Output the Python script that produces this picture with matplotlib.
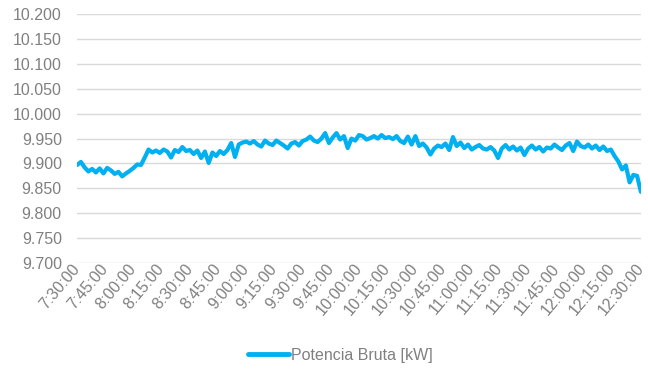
import matplotlib
matplotlib.use("Agg")
import matplotlib.pyplot as plt
import matplotlib.transforms as mtransforms
from matplotlib.ticker import FuncFormatter

plt.rcParams['font.family'] = ['Liberation Sans', 'DejaVu Sans']

# gross power, one reading every 2 minutes from 7:30 to 12:30 [kW]
potencia_bruta = [
    9897, 9903, 9892, 9884, 9889, 9882, 9890, 9880, 9891, 9886, 9879, 9883, 9874, 9880, 9885,
    9891, 9898, 9897, 9912, 9928, 9922, 9926, 9921, 9928, 9924, 9912, 9927, 9923, 9933, 9925,
    9927, 9919, 9926, 9911, 9924, 9901, 9922, 9915, 9925, 9919, 9927, 9941, 9913, 9938, 9942,
    9944, 9940, 9945, 9938, 9934, 9946, 9940, 9937, 9946, 9941, 9936, 9930, 9940, 9943, 9936,
    9945, 9948, 9954, 9946, 9943, 9950, 9961, 9941, 9952, 9961, 9948, 9955, 9931, 9950, 9946,
    9957, 9955, 9948, 9951, 9955, 9950, 9957, 9951, 9953, 9949, 9955, 9945, 9941, 9954, 9938,
    9955, 9935, 9940, 9932, 9918, 9930, 9936, 9933, 9940, 9927, 9953, 9935, 9942, 9931, 9938,
    9928, 9933, 9937, 9930, 9928, 9933, 9926, 9911, 9930, 9937, 9928, 9934, 9926, 9932, 9917,
    9930, 9936, 9928, 9933, 9924, 9932, 9930, 9938, 9932, 9927, 9936, 9941, 9925, 9944, 9935,
    9932, 9938, 9930, 9936, 9927, 9934, 9925, 9928, 9915, 9904, 9888, 9896, 9862, 9877, 9875,
    9843,
]
minutos = [2 * i for i in range(len(potencia_bruta))]  # minutes since 7:30

tick_minutos = list(range(0, 301, 15))
tick_labels = ['7:30:00', '7:45:00', '8:00:00', '8:15:00', '8:30:00', '8:45:00',
               '9:00:00', '9:15:00', '9:30:00', '9:45:00', '10:00:00', '10:15:00',
               '10:30:00', '10:45:00', '11:00:00', '11:15:00', '11:30:00', '11:45:00',
               '12:00:00', '12:15:00', '12:30:00']

y_ticks = list(range(9700, 10201, 50))

GRIS = '#808080'
AZUL = '#00B0F0'

fig = plt.figure(figsize=(6.48, 3.73), dpi=100)
ax = fig.add_axes([0.119, 0.295, 0.870, 0.667])

ax.plot(minutos, potencia_bruta, color=AZUL, lw=3.0, solid_joinstyle='round',
        solid_capstyle='round', label='Potencia Bruta [kW]')

ax.set_xlim(0, 300)
ax.set_ylim(9700, 10200)
ax.set_yticks(y_ticks)
ax.yaxis.set_major_formatter(FuncFormatter(lambda v, p: f"{v:,.0f}".replace(',', '.')))
ax.set_xticks(tick_minutos)
ax.set_xticklabels(tick_labels, rotation=50, ha='right', va='center',
                   rotation_mode='anchor', fontsize=11.5)

# nudge the rotated labels a bit to the right and down
offset = mtransforms.ScaledTranslation(4 / 72, -5 / 72, fig.dpi_scale_trans)
for lbl in ax.get_xticklabels():
    lbl.set_transform(lbl.get_transform() + offset)

ax.tick_params(axis='both', length=0, colors=GRIS)
ax.tick_params(axis='y', pad=11, labelsize=11.5)
ax.tick_params(axis='x', pad=2)

ax.grid(True, axis='y', color='#D9D9D9', lw=1)
ax.set_axisbelow(True)
for s in ax.spines.values():
    s.set_visible(False)

leg = fig.legend(loc='center', bbox_to_anchor=(0.525, 0.048), frameon=False,
                 fontsize=11.5, handlelength=2.6, handletextpad=0.1,
                 labelcolor=GRIS)
for h in leg.get_lines():
    h.set_linewidth(3.5)

fig.savefig('out.png', dpi=100, facecolor='white')
